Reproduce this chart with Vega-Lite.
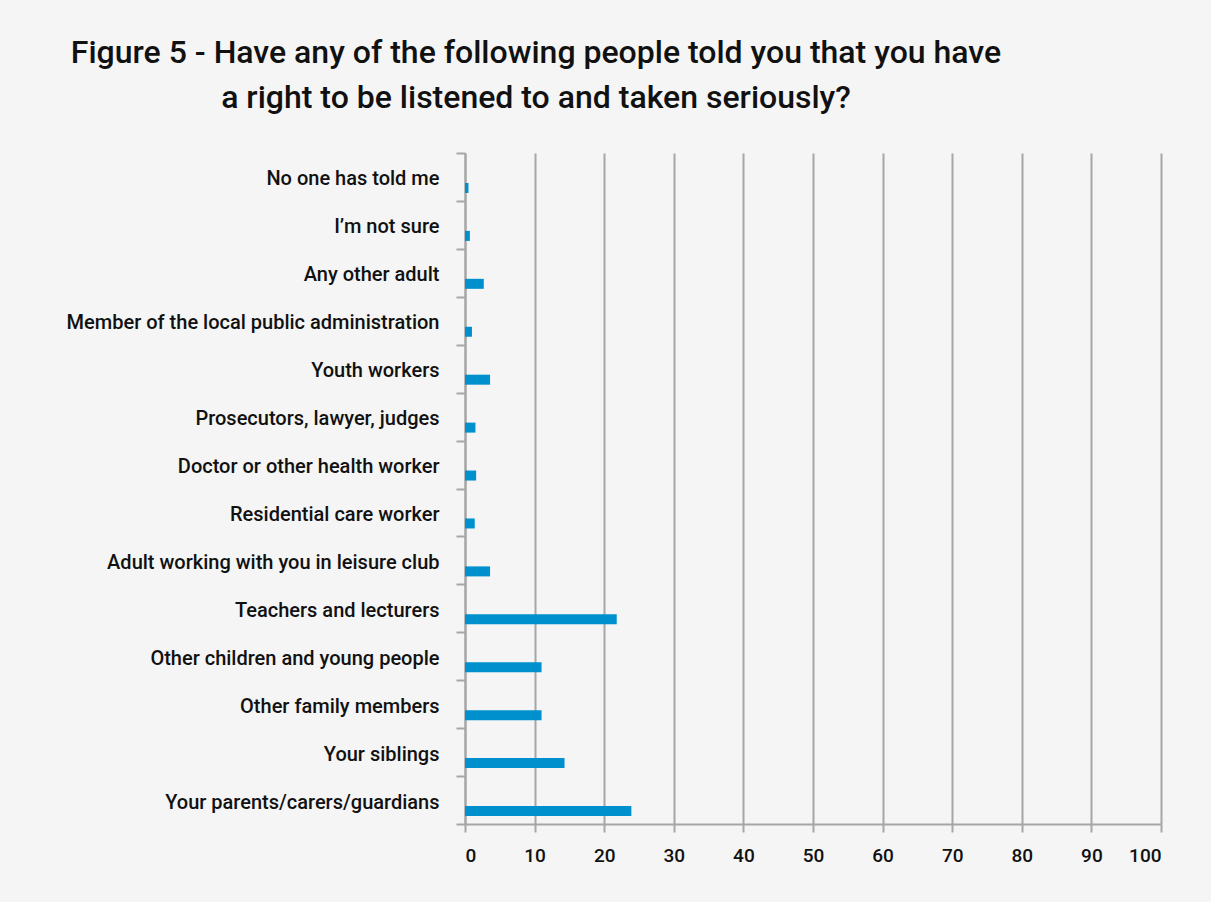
{
  "$schema": "https://vega.github.io/schema/vega-lite/v6.json",
  "width": 696,
  "height": 671,
  "autosize": "none",
  "padding": {"left": 465, "top": 153, "right": 50, "bottom": 78},
  "background": "#f5f5f5",
  "title": {
    "text": ["Figure 5 - Have any of the following people told you that you have", "a right to be listened to and taken seriously?"],
    "anchor": "middle",
    "frame": "group",
    "dx": -277,
    "font": "Roboto",
    "fontSize": 32,
    "fontWeight": 500,
    "lineHeight": 45,
    "color": "#111111",
    "offset": 28
  },
  "data": {
    "values": [
      {"who": "No one has told me", "pct": 0.5},
      {"who": "I’m not sure", "pct": 0.7},
      {"who": "Any other adult", "pct": 2.7},
      {"who": "Member of the local public administration", "pct": 1.0},
      {"who": "Youth workers", "pct": 3.6},
      {"who": "Prosecutors, lawyer, judges", "pct": 1.5},
      {"who": "Doctor or other health worker", "pct": 1.6},
      {"who": "Residential care worker", "pct": 1.4},
      {"who": "Adult working with you in leisure club", "pct": 3.6},
      {"who": "Teachers and lecturers", "pct": 21.8},
      {"who": "Other children and young people", "pct": 11.0},
      {"who": "Other family members", "pct": 11.0},
      {"who": "Your siblings", "pct": 14.3},
      {"who": "Your parents/carers/guardians", "pct": 23.9}
    ]
  },
  "mark": {"type": "bar", "color": "#0090cd", "height": 10, "yOffset": 11},
  "encoding": {
    "y": {
      "field": "who",
      "type": "nominal",
      "sort": null,
      "scale": {"paddingInner": 0, "paddingOuter": 0},
      "axis": {
        "title": null,
        "grid": false,
        "domainColor": "#a6a6a6",
        "domainWidth": 2,
        "tickColor": "#a6a6a6",
        "tickWidth": 2,
        "tickSize": 9,
        "tickBand": "extent",
        "labelPadding": 17,
        "labelFont": "Roboto",
        "labelFontSize": 20,
        "labelFontWeight": 500,
        "labelColor": "#111111",
        "labelLimit": 0,
        "labelOffset": 2
      }
    },
    "x": {
      "field": "pct",
      "type": "quantitative",
      "scale": {"domain": [0, 100], "nice": false},
      "axis": {
        "title": null,
        "values": [0, 10, 20, 30, 40, 50, 60, 70, 80, 90, 100],
        "grid": true,
        "gridColor": "#a6a6a6",
        "gridWidth": 2,
        "domainColor": "#a6a6a6",
        "domainWidth": 2,
        "tickColor": "#a6a6a6",
        "tickWidth": 2,
        "tickSize": 8,
        "labelPadding": 14,
        "labelFont": "Roboto",
        "labelFontSize": 19,
        "labelFontWeight": 500,
        "labelColor": "#111111"
      }
    }
  },
  "config": {"view": {"stroke": null}}
}
